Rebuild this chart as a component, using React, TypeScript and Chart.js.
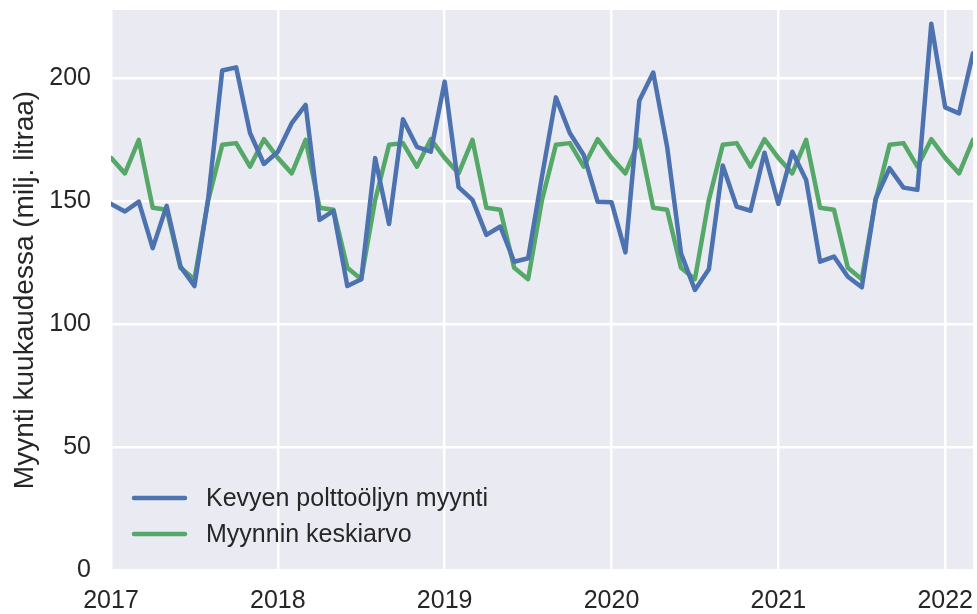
import { useEffect, useRef } from "react";
import { Chart, registerables } from "chart.js";

Chart.register(...registerables);

const startYear = 2017;

// Kuukausittainen myynti (milj. litraa), 2017-01 ... 2022-03
const sales = [
  148.8, 145.7, 149.7, 130.8, 148.0, 123.3, 115.4, 151.4, 203.0, 204.3, 177.6, 165.0,
  170.0, 181.6, 189.0, 142.3, 146.0, 115.4, 118.2, 167.4, 140.6, 183.2, 172.0, 170.0,
  198.5, 155.6, 150.4, 136.2, 139.6, 125.3, 126.7, 160.0, 192.1, 177.6, 168.7, 149.7,
  149.5, 129.1, 190.8, 202.2, 172.0, 128.7, 113.8, 122.2, 164.4, 147.7, 146.0, 169.6,
  148.8, 170.0, 158.5, 125.3, 127.4, 119.2, 114.9, 151.0, 163.3, 155.4, 154.5, 222.0,
  188.0, 185.6, 210.0,
];

// Myynnin keskiarvo (kuukauden keskiarvo vuosien yli)
const meanSales = [
  167.5, 161.2, 174.8, 147.2, 146.4, 122.8, 118.2, 150.4, 172.8, 173.5, 163.9, 175.1,
  167.5, 161.2, 174.8, 147.2, 146.4, 122.8, 118.2, 150.4, 172.8, 173.5, 163.9, 175.1,
  167.5, 161.2, 174.8, 147.2, 146.4, 122.8, 118.2, 150.4, 172.8, 173.5, 163.9, 175.1,
  167.5, 161.2, 174.8, 147.2, 146.4, 122.8, 118.2, 150.4, 172.8, 173.5, 163.9, 175.1,
  167.5, 161.2, 174.8, 147.2, 146.4, 122.8, 118.2, 150.4, 172.8, 173.5, 163.9, 175.1,
  167.5, 161.2, 174.8,
];

const xTicks = [2017, 2018, 2019, 2020, 2021, 2022];
const yTicks = [0, 50, 100, 150, 200];
const seriesLabels = ["Kevyen polttoöljyn myynti", "Myynnin keskiarvo"];
const seriesColors = ["#4C72B0", "#55A868"];
const yTitle = "Myynti kuukaudessa (milj. litraa)";

const FONT = "'Liberation Sans', Arial, Helvetica, sans-serif";
const TEXT = "#262626";

export default function App() {
  const ref = useRef<HTMLCanvasElement>(null);

  useEffect(() => {
    document.body.style.margin = "0";
    if (!ref.current) return;

    const bgPlugin = {
      id: "bgPlugin",
      beforeDraw(chart: any) {
        const { ctx, chartArea: a } = chart;
        ctx.save();
        ctx.fillStyle = "#EAEAF2";
        ctx.fillRect(a.left, a.top, a.right - a.left, a.bottom - a.top);
        ctx.restore();
      },
    };

    const legendPlugin = {
      id: "innerLegend",
      afterDatasetsDraw(chart: any) {
        const { ctx, chartArea: a } = chart;
        ctx.save();
        chart.data.datasets.forEach((ds: any, i: number) => {
          const y = a.bottom - 72 + i * 36;
          ctx.strokeStyle = ds.borderColor;
          ctx.lineWidth = 4.5;
          ctx.lineCap = "round";
          ctx.beginPath();
          ctx.moveTo(a.left + 23, y);
          ctx.lineTo(a.left + 74, y);
          ctx.stroke();
          ctx.fillStyle = TEXT;
          ctx.font = `25px ${FONT}`;
          ctx.textBaseline = "middle";
          ctx.textAlign = "left";
          ctx.fillText(ds.label, a.left + 95, y + 1);
        });
        ctx.restore();
      },
    };

    const chart = new Chart(ref.current, {
      type: "line",
      data: {
        datasets: [
          {
            label: seriesLabels[0],
            data: sales.map((v, i) => ({ x: startYear + i / 12, y: v })),
            borderColor: seriesColors[0],
            backgroundColor: seriesColors[0],
            borderWidth: 4.5,
            pointRadius: 0,
            tension: 0,
            borderJoinStyle: "round",
            borderCapStyle: "round",
          },
          {
            label: seriesLabels[1],
            data: meanSales.map((v, i) => ({ x: startYear + i / 12, y: v })),
            borderColor: seriesColors[1],
            backgroundColor: seriesColors[1],
            borderWidth: 4.5,
            pointRadius: 0,
            tension: 0,
            borderJoinStyle: "round",
            borderCapStyle: "round",
          },
        ],
      },
      options: {
        animation: false,
        responsive: false,
        layout: { padding: { top: 10, right: 4, left: 0, bottom: 0 } },
        plugins: {
          legend: { display: false },
          tooltip: { enabled: false },
        },
        scales: {
          x: {
            type: "linear",
            min: startYear,
            max: startYear + (sales.length - 1) / 12,
            afterBuildTicks: (s: any) => {
              s.ticks = xTicks.map((v) => ({ value: v }));
            },
            afterFit: (s: any) => {
              s.height = 44;
              s.paddingLeft = 0;
              s.paddingRight = 0;
            },
            grid: { color: "#ffffff", lineWidth: 2.5, drawTicks: false },
            border: { display: false },
            ticks: {
              font: { family: FONT, size: 25 },
              color: TEXT,
              padding: 16,
              maxRotation: 0,
              autoSkip: false,
              callback: (v: any) => String(v),
            },
          },
          y: {
            type: "linear",
            min: 0,
            max: 227.6,
            afterBuildTicks: (s: any) => {
              s.ticks = yTicks.map((v) => ({ value: v }));
            },
            afterFit: (s: any) => {
              s.width = 111;
              s.paddingTop = 0;
              s.paddingBottom = 0;
            },
            grid: { color: "#ffffff", lineWidth: 2.5, drawTicks: false },
            border: { display: false },
            title: {
              display: true,
              text: yTitle,
              font: { family: FONT, size: 28 },
              color: TEXT,
              padding: { top: 8, bottom: 0 },
            },
            ticks: {
              font: { family: FONT, size: 25 },
              color: TEXT,
              padding: 20,
              callback: (v: any) => String(v),
            },
          },
        },
      },
      plugins: [bgPlugin, legendPlugin],
    } as any);

    return () => chart.destroy();
  }, []);

  return <canvas ref={ref} width={977} height={614} style={{ display: "block" }} />;
}
